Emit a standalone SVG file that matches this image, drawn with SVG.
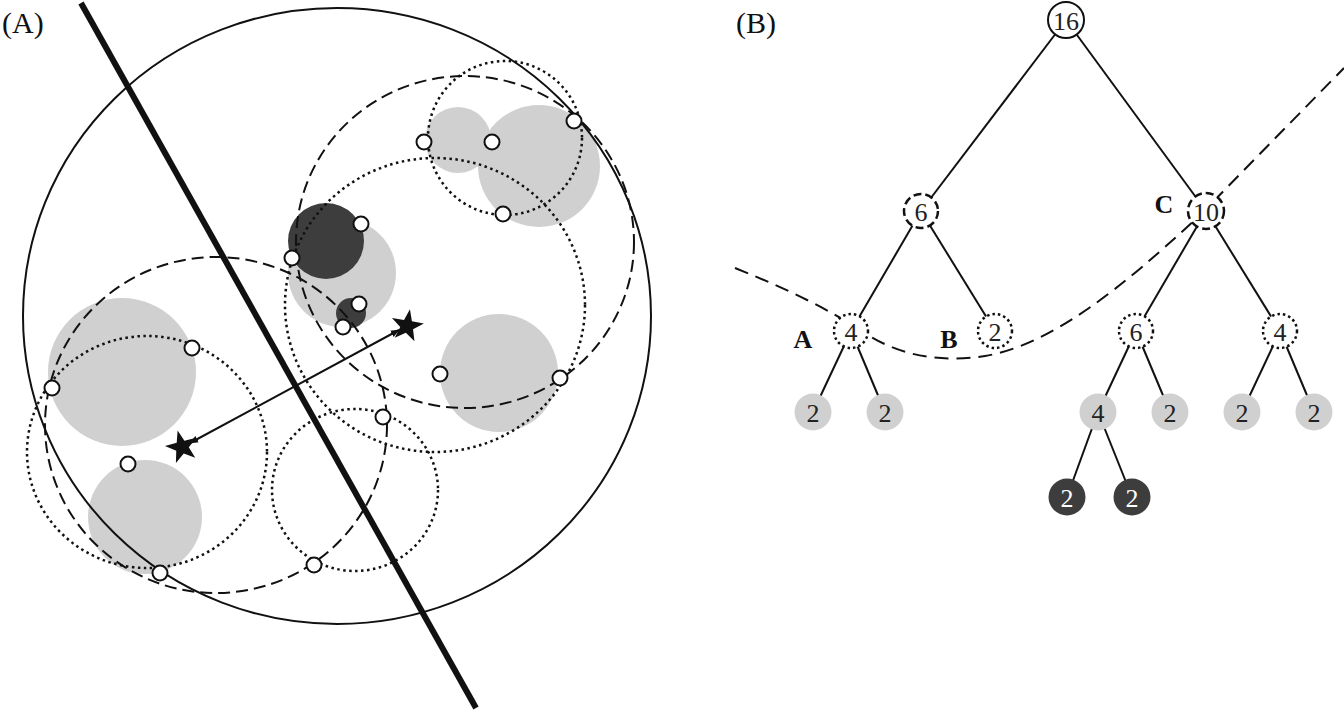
<svg xmlns="http://www.w3.org/2000/svg" width="1344" height="712" viewBox="0 0 1344 712">
<style>
.lbl{font-family:"Liberation Serif",serif;font-size:30px;fill:#111}
.grey{fill:#d0d0d0}
.dark{fill:#3d3d3d}
.dash{fill:none;stroke:#111;stroke-width:2;stroke-dasharray:12 6}
.dot{fill:none;stroke:#111;stroke-width:2.5;stroke-dasharray:2.5 3.5}
.pt{fill:#fff;stroke:#111;stroke-width:2}
.edge{stroke:#111;stroke-width:2}
.num{font-family:"Liberation Serif",serif;font-size:26px;fill:#222;text-anchor:middle;dominant-baseline:central}
.numw{fill:#fff}
.bold{font-family:"Liberation Serif",serif;font-size:26px;font-weight:bold;fill:#111;text-anchor:middle;dominant-baseline:central}
.nsolid{fill:#fff;stroke:#111;stroke-width:2}
.ndash{fill:#fff;stroke:#111;stroke-width:2.5;stroke-dasharray:8 4}
.ndot{fill:#fff;stroke:#111;stroke-width:2.5;stroke-dasharray:2.5 3}
</style>
<defs>
<polygon id="star" points="0,-17 4,-5.5 16.2,-5.3 6.5,2.1 10,13.8 0,6.8 -10,13.8 -6.5,2.1 -16.2,-5.3 -4,-5.5" fill="#111"/>
<marker id="ah" viewBox="0 0 10 10" refX="9" refY="5" markerWidth="9" markerHeight="9" orient="auto-start-reverse" markerUnits="userSpaceOnUse">
<path d="M0,1 L10,5 L0,9 z" fill="#111"/>
</marker>
</defs>

<g id="panelA">
<text class="lbl" x="2" y="33">(A)</text>
<g id="fills">
<circle class="grey" cx="458" cy="140" r="33"/>
<circle class="grey" cx="539" cy="166" r="61"/>
<circle class="grey" cx="342" cy="273" r="54"/>
<circle class="dark" cx="326" cy="241" r="38"/>
<circle class="dark" cx="351" cy="313" r="15"/>
<circle class="grey" cx="499" cy="373" r="59"/>
<circle class="grey" cx="122" cy="372" r="74"/>
<circle class="grey" cx="145" cy="517" r="57"/>
</g>
<g id="regions">
<ellipse class="dash" cx="465" cy="242" rx="169" ry="166"/>
<ellipse class="dash" cx="216" cy="425" rx="171" ry="168"/>
<circle class="dot" cx="505" cy="138" r="77"/>
<ellipse class="dot" cx="435" cy="305" rx="150" ry="147"/>
<ellipse class="dot" cx="147" cy="452" rx="120" ry="116"/>
<ellipse class="dot" cx="355" cy="490" rx="83" ry="81"/>
<ellipse fill="none" stroke="#111" stroke-width="2" cx="337" cy="316" rx="314" ry="308"/>
<line x1="81" y1="3" x2="476" y2="708" stroke="#111" stroke-width="6"/>
</g>
<g id="arrow">
<line x1="190" y1="443" x2="399" y2="330" stroke="#111" stroke-width="2" marker-start="url(#ah)" marker-end="url(#ah)"/>
<use href="#star" transform="translate(182,447) rotate(-15)"/>
<use href="#star" transform="translate(407,326) rotate(10)"/>
</g>
<g id="points">
<circle class="pt" cx="424" cy="142" r="7.5"/>
<circle class="pt" cx="492" cy="142" r="7.5"/>
<circle class="pt" cx="574" cy="121" r="7.5"/>
<circle class="pt" cx="503" cy="214" r="7.5"/>
<circle class="pt" cx="361" cy="224" r="7.5"/>
<circle class="pt" cx="292" cy="258" r="7.5"/>
<circle class="pt" cx="359" cy="304" r="7.5"/>
<circle class="pt" cx="343" cy="327" r="7.5"/>
<circle class="pt" cx="192" cy="348" r="7.5"/>
<circle class="pt" cx="52" cy="388" r="7.5"/>
<circle class="pt" cx="440" cy="374" r="7.5"/>
<circle class="pt" cx="560" cy="378" r="7.5"/>
<circle class="pt" cx="383" cy="417" r="7.5"/>
<circle class="pt" cx="128" cy="464" r="7.5"/>
<circle class="pt" cx="160" cy="573" r="7.5"/>
<circle class="pt" cx="314" cy="565" r="7.5"/>
</g>
</g>

<g id="panelB">
<text class="lbl" x="736" y="33">(B)</text>
<g id="connectors">
<line class="edge" x1="1066" y1="20" x2="921" y2="211"/>
<line class="edge" x1="1066" y1="20" x2="1206" y2="211"/>
<line class="edge" x1="921" y1="211" x2="851" y2="331"/>
<line class="edge" x1="921" y1="211" x2="995" y2="331"/>
<line class="edge" x1="1206" y1="211" x2="1136" y2="331"/>
<line class="edge" x1="1206" y1="211" x2="1280" y2="331"/>
<line class="edge" x1="851" y1="331" x2="813" y2="412"/>
<line class="edge" x1="851" y1="331" x2="885" y2="412"/>
<line class="edge" x1="1136" y1="331" x2="1098" y2="412"/>
<line class="edge" x1="1136" y1="331" x2="1170" y2="412"/>
<line class="edge" x1="1280" y1="331" x2="1242" y2="412"/>
<line class="edge" x1="1280" y1="331" x2="1314" y2="412"/>
<line class="edge" x1="1098" y1="412" x2="1067" y2="497"/>
<line class="edge" x1="1098" y1="412" x2="1132" y2="497"/>
<path fill="none" stroke="#111" stroke-width="2" stroke-dasharray="14 8" d="M735,268 C790,290 830,310 868,335 C905,358 945,362 985,356 C1050,345 1120,290 1200,215 L1344,68"/>
</g>
<g id="n16"><circle class="nsolid" cx="1066" cy="20" r="18"/><text class="num" x="1066" y="21">16</text></g>
<g id="n6a"><circle class="ndash" cx="921" cy="211" r="17"/><text class="num" x="921" y="212">6</text></g>
<g id="n10"><circle class="ndash" cx="1206" cy="211" r="18"/><text class="num" x="1206" y="212">10</text></g>
<g id="nA"><circle class="ndot" cx="851" cy="331" r="17"/><text class="num" x="851" y="332">4</text></g>
<g id="nB"><circle class="ndot" cx="995" cy="331" r="17"/><text class="num" x="995" y="332">2</text></g>
<g id="n6b"><circle class="ndot" cx="1136" cy="331" r="17"/><text class="num" x="1136" y="332">6</text></g>
<g id="n4b"><circle class="ndot" cx="1280" cy="331" r="17"/><text class="num" x="1280" y="332">4</text></g>
<g id="l1"><circle class="grey" cx="813" cy="412" r="18.5"/><text class="num" x="813" y="413">2</text></g>
<g id="l2"><circle class="grey" cx="885" cy="412" r="18.5"/><text class="num" x="885" y="413">2</text></g>
<g id="l3"><circle class="grey" cx="1098" cy="412" r="18.5"/><text class="num" x="1098" y="413">4</text></g>
<g id="l4"><circle class="grey" cx="1170" cy="412" r="18.5"/><text class="num" x="1170" y="413">2</text></g>
<g id="l5"><circle class="grey" cx="1242" cy="412" r="18.5"/><text class="num" x="1242" y="413">2</text></g>
<g id="l6"><circle class="grey" cx="1314" cy="412" r="18.5"/><text class="num" x="1314" y="413">2</text></g>
<g id="d1"><circle class="dark" cx="1067" cy="497" r="18.5"/><text class="num numw" x="1067" y="498">2</text></g>
<g id="d2"><circle class="dark" cx="1132" cy="497" r="18.5"/><text class="num numw" x="1132" y="498">2</text></g>
<g id="labels">
<text class="bold" x="803" y="339">A</text>
<text class="bold" x="949" y="339">B</text>
<text class="bold" x="1164" y="204">C</text>
</g>
</g>
</svg>
